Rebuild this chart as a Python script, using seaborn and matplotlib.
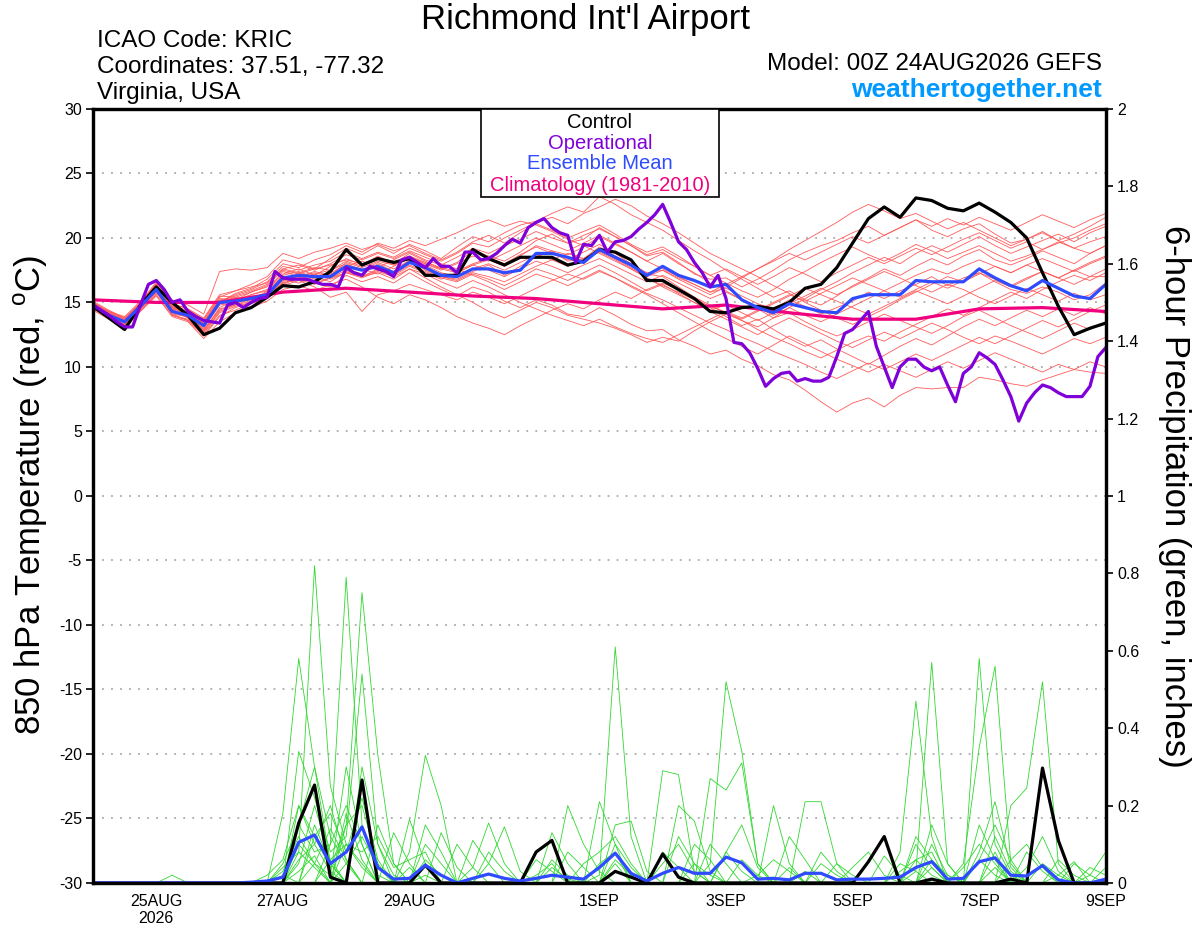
import numpy as np
import pandas as pd
import matplotlib
matplotlib.use('Agg')
import matplotlib.pyplot as plt
from matplotlib.patches import Rectangle
import seaborn as sns

# ---------------- data ----------------
# 6-hourly forecast hours 0..384 (00Z 24AUG -> 00Z 9SEP), operational 3-hourly
hours6 = list(range(0, 385, 6))
hours3 = list(range(0, 385, 3))
hours_clim = list(range(0, 385, 24))

control_t = [14.7,13.8,12.9,14.8, 16.2,15.0,14.0,12.5, 13.0,14.2,14.6,15.4,
             16.3,16.2,16.6,17.4, 19.1,17.9,18.4,18.1, 18.4,17.1,17.1,17.1,
             19.1,18.4,17.9,18.5, 18.5,18.5,17.9,18.2, 19.1,18.9,18.3,16.7,
             16.7,16.0,15.3,14.3, 14.2,14.6,14.7,14.5, 15.0,16.1,16.4,17.7,
             19.6,21.5,22.4,21.6, 23.1,22.9,22.3,22.1, 22.7,22.0,21.2,20.0,
             17.3,14.7,12.5,13.0, 13.4]

mean_t = [14.8,14.0,13.5,14.7, 16.0,14.3,14.0,13.2, 15.0,15.1,15.3,15.6,
          16.9,17.1,17.0,17.0, 17.8,17.5,17.8,17.3, 18.1,17.7,17.1,17.0,
          17.6,17.6,17.3,17.5, 18.8,18.8,18.5,18.1, 19.1,18.5,17.9,17.1,
          17.8,17.1,16.7,16.2, 16.4,15.2,14.6,14.2, 14.9,14.6,14.3,14.2,
          15.3,15.6,15.6,15.6, 16.7,16.6,16.6,16.6, 17.6,16.9,16.3,15.9,
          16.7,16.1,15.5,15.3, 16.4]

oper_t = [14.8,14.4,14.0,13.5,13.1,13.1,14.8,16.4, 16.7,16.0,15.0,15.2,14.3,13.9,13.6,13.5,
          13.4,14.8,15.0,14.6,15.0,15.3,15.4,17.4, 16.9,16.8,16.8,16.8,16.6,16.4,16.4,16.2,
          17.7,17.3,17.1,17.8,17.6,17.4,17.0,18.3, 18.5,18.1,17.7,18.4,17.8,17.8,17.3,18.9,
          18.9,18.3,18.4,18.8,19.4,19.9,19.6,20.8, 21.2,21.5,20.8,20.4,20.2,18.1,19.5,19.4,
          20.2,18.9,19.7,19.8,20.1,20.7,21.2,21.8, 22.6,21.2,19.7,19.1,18.1,17.3,16.2,17.1,
          15.3,11.9,11.8,11.1,9.9,8.5,9.1,9.5, 9.6,8.9,9.1,8.9,8.9,9.2,10.8,12.6,
          12.9,13.6,14.3,11.6,10.0,8.4,10.0,10.6, 10.6,10.0,9.7,10.0,8.6,7.3,9.5,10.0,
          11.1,10.7,10.2,9.0,7.7,5.8,7.2,8.0, 8.6,8.4,8.0,7.7,7.7,7.7,8.5,10.8,
          11.5]

clim_t = [15.2,15.0,15.0,15.8,16.1,15.8,15.5,15.3,14.9,14.5,14.8,14.2,13.7,13.7,14.5,14.6,14.3]

# ensemble members, 850 hPa temperature
m01 = [14.5,13.9,13.2,14.6, 16.3,14.8,14.2,12.8, 14.6,15.2,15.8,16.2, 17.2,17.6,17.1,17.8, 18.4,17.9,18.6,18.0, 18.8,18.2,17.6,18.1, 19.0,18.6,18.2,18.9, 19.8,20.3,19.6,19.9, 20.8,20.1,19.4,18.6, 18.9,18.1,17.2,16.8, 16.9,16.2,16.8,17.5, 18.3,18.9,19.4,19.8, 20.4,20.9,20.2,20.8, 21.4,20.6,20.1,20.7, 21.1,20.3,19.6,19.9, 20.5,19.8,20.3,20.9, 21.6]
m02 = [14.9,14.2,13.6,14.9, 15.8,14.1,13.6,12.4, 13.9,14.6,15.0,15.3, 16.4,16.9,16.5,16.2, 17.1,16.6,17.0,16.5, 17.3,16.6,16.0,15.5, 16.2,15.8,15.1,14.6, 15.2,14.8,14.1,13.9, 14.6,14.0,13.3,12.8, 12.9,12.1,11.6,11.0, 11.3,10.6,10.1,9.4, 9.0,8.2,7.3,6.5, 7.2,7.6,6.9,7.8, 8.4,8.3,8.4,8.4, 9.2,9.0,8.7,8.5, 9.0,9.4,9.8,9.6, 9.5]
m03 = [15.1,14.4,13.8,15.0, 16.6,14.9,14.5,13.6, 15.4,15.9,16.4,17.0, 18.3,18.0,17.6,18.4, 19.2,18.7,19.4,18.8, 19.5,19.0,18.4,19.3, 20.1,19.7,20.4,21.0, 21.3,21.9,22.4,22.0, 23.2,22.6,21.8,21.2, 20.6,19.8,19.0,18.3, 17.5,16.8,16.1,15.4, 15.9,15.2,14.8,15.5, 16.3,16.9,17.6,17.1, 17.8,18.4,17.9,18.6, 19.1,18.3,17.9,18.4, 19.0,18.5,18.0,18.8, 19.4]
m04 = [14.7,14.1,13.4,14.4, 15.7,14.5,13.8,13.0, 14.8,15.0,15.5,15.3, 16.6,17.3,16.8,17.2, 17.6,17.2,18.0,17.4, 18.3,17.5,17.0,16.8, 17.4,17.9,17.1,17.8, 18.5,19.0,18.2,18.4, 19.3,18.6,18.0,17.3, 17.5,16.9,16.4,15.8, 16.1,15.5,14.9,14.5, 15.2,14.7,14.1,14.6, 15.1,15.8,15.3,15.9, 16.4,17.0,16.3,16.9, 17.3,16.6,16.0,15.7, 16.2,15.8,15.2,15.6, 16.5]
m05 = [14.6,13.8,13.3,14.5, 16.1,14.0,13.7,12.6, 14.2,14.7,15.0,15.8, 17.0,16.8,16.4,16.9, 17.5,17.0,17.3,16.8, 17.6,16.9,16.2,15.6, 15.0,14.3,13.8,14.4, 15.0,14.6,14.0,13.7, 13.4,13.0,12.5,11.9, 12.3,12.0,12.8,13.5, 14.1,13.6,13.1,13.8, 14.6,15.3,16.0,16.6, 17.3,17.9,18.5,18.0, 18.8,19.4,18.9,19.5, 20.1,19.4,18.8,19.3, 19.8,20.3,19.7,20.4, 20.9]
m06 = [15.0,14.3,13.7,14.8, 16.4,14.6,14.1,13.4, 15.2,15.3,15.1,15.9, 17.4,17.0,17.4,17.1, 18.1,17.7,18.2,17.9, 18.6,18.0,17.6,17.3, 17.9,18.3,17.8,18.6, 19.4,19.0,18.7,19.3, 20.1,19.5,18.9,18.2, 18.8,18.0,17.3,16.5, 15.9,15.2,14.5,13.8, 14.2,13.5,12.9,12.4, 12.9,13.5,14.1,13.6, 13.1,12.6,13.2,13.9, 14.4,13.8,13.2,12.7, 12.2,12.8,13.4,12.9, 13.5]
m07 = [14.8,14.0,13.6,14.9, 16.5,15.2,14.8,14.1, 17.4,17.6,17.5,17.7, 18.8,18.4,18.9,19.2, 19.6,19.1,19.5,19.0, 19.4,18.8,18.3,18.9, 19.7,20.2,19.6,20.4, 21.1,20.6,20.0,20.5, 21.0,20.3,19.5,18.9, 19.3,18.6,17.8,17.1, 16.5,15.9,15.4,16.0, 16.8,17.4,18.1,18.7, 19.3,18.7,18.2,18.8, 19.5,19.0,18.4,18.9, 19.4,18.8,18.2,18.6, 19.1,19.6,20.0,20.6, 21.1]
m08 = [14.4,13.7,13.0,14.3, 15.5,13.9,13.5,12.2, 13.5,14.2,14.6,15.1, 16.0,16.3,15.9,16.4, 16.8,16.2,15.4,14.9, 15.6,15.2,14.6,13.9, 13.4,13.0,12.5,13.2, 13.8,14.4,14.9,14.5, 15.2,15.8,15.3,16.0, 16.5,16.0,15.4,14.8, 14.2,13.6,12.9,12.3, 11.8,11.2,10.7,11.3, 11.9,12.4,12.0,12.7, 13.3,13.9,14.5,14.0, 14.6,15.2,15.8,15.3, 16.0,16.6,17.1,16.7, 17.3]
m09 = [14.9,14.1,13.5,14.6, 16.2,14.4,14.0,13.1, 15.1,15.6,16.0,16.6, 17.8,17.5,17.9,18.2, 18.9,18.4,18.9,18.5, 19.2,18.7,18.2,18.8, 19.6,19.3,20.0,20.6, 21.2,21.6,21.1,21.9, 22.4,23.0,22.5,21.7, 21.1,20.4,19.6,18.8, 18.2,17.6,17.0,16.3, 15.7,15.0,14.4,13.8, 13.3,13.9,14.5,15.2, 15.8,16.4,17.0,16.6, 17.2,17.8,17.3,17.9, 18.4,17.9,17.4,18.0, 18.5]
m10 = [14.6,13.9,13.4,14.7, 15.9,14.2,13.9,12.9, 14.4,14.9,15.4,15.7, 16.8,16.5,17.0,16.6, 17.4,17.0,17.6,17.2, 17.9,17.4,16.9,16.6, 17.2,16.8,16.3,16.9, 17.6,17.2,16.7,17.3, 17.9,17.3,16.6,15.9, 16.4,15.7,15.0,14.3, 13.7,13.1,12.5,13.2, 13.8,13.2,12.6,12.0, 11.5,12.1,12.7,12.2, 12.8,13.4,12.9,12.3, 11.8,12.4,12.0,11.5, 11.0,11.6,12.2,11.8, 12.3]
m11 = [14.8,14.2,13.7,14.9, 16.0,14.6,14.3,13.5, 15.3,15.2,15.6,16.0, 17.1,17.4,16.9,17.3, 17.9,17.6,17.2,17.8, 18.4,17.9,17.3,17.0, 17.6,18.0,17.5,18.1, 18.7,18.3,17.8,18.4, 19.0,18.4,17.7,17.0, 17.5,16.8,16.2,15.6, 16.2,16.9,17.6,18.3, 19.1,19.8,20.5,21.2, 22.0,22.6,22.1,21.5, 21.9,21.3,20.7,21.2, 20.6,20.0,19.4,19.9, 20.4,19.8,19.2,19.7, 20.1]
m12 = [15.0,14.3,13.9,15.1, 16.3,14.7,14.4,13.7, 15.5,15.4,15.8,16.3, 17.5,17.2,17.6,17.9, 18.3,18.0,18.5,18.1, 18.6,18.1,17.7,17.4, 18.0,18.4,18.0,18.7, 19.3,18.8,18.3,18.9, 19.5,18.8,18.0,17.2, 17.0,16.2,15.4,14.6, 13.9,13.2,13.7,12.9, 12.2,11.6,12.1,11.4, 10.8,10.2,10.9,11.6, 12.2,11.7,12.4,13.1, 13.7,13.2,13.8,14.4, 13.9,14.5,14.0,14.6, 14.1]
m13 = [14.5,13.8,13.2,14.4, 15.6,14.0,13.6,12.5, 14.0,14.4,14.9,15.4, 16.3,16.7,16.2,15.4, 15.8,14.3,15.6,15.9, 16.4,16.0,15.6,15.2, 15.8,15.4,14.9,15.5, 16.1,16.7,17.2,16.8, 17.4,16.9,16.3,15.7, 15.2,14.6,14.0,13.4, 12.9,12.3,11.8,11.2, 10.7,10.2,9.6,9.1, 9.7,10.3,9.8,10.4, 11.0,10.5,11.1,11.7, 12.3,11.8,12.4,13.0, 13.6,13.1,13.7,14.3, 14.8]
m14 = [14.7,14.0,13.5,14.8, 16.1,14.5,14.2,13.3, 15.0,15.4,15.2,15.5, 16.7,17.0,17.3,17.0, 17.8,18.2,17.7,18.3, 18.9,18.3,17.9,18.5, 19.2,18.8,19.4,19.9, 20.5,20.0,19.6,20.2, 20.7,20.1,19.4,18.7, 19.1,18.4,17.8,17.1, 17.6,17.0,16.4,17.0, 17.7,17.2,16.6,17.3, 17.9,18.5,18.0,18.6, 19.2,18.7,19.3,19.9, 20.4,19.8,19.2,19.7, 19.1,19.7,19.2,18.8, 19.4]
m15 = [14.6,14.1,13.6,14.6, 15.8,14.4,14.0,13.4, 14.9,15.1,15.6,15.9, 17.0,16.8,17.2,17.5, 18.0,17.5,18.1,17.6, 18.2,17.6,17.0,16.7, 17.3,17.0,16.6,17.2, 17.8,18.3,18.8,18.4, 18.9,18.3,17.6,16.9, 16.2,15.6,15.0,14.4, 14.8,14.2,13.6,14.2, 14.9,15.5,16.1,15.6, 16.2,16.8,17.4,16.9, 16.3,15.8,16.4,16.0, 15.4,14.9,15.5,16.1, 15.6,15.1,15.7,15.2, 15.6]
m16 = [14.9,14.3,13.8,14.9, 16.4,14.9,14.5,13.8, 15.6,15.9,16.2,16.5, 17.6,17.9,17.5,18.0, 18.7,18.3,18.8,18.4, 19.0,18.5,18.0,17.6, 17.1,16.6,16.0,16.6, 17.2,16.8,16.3,16.9, 17.5,16.9,16.2,15.6, 14.9,14.2,13.5,12.8, 12.2,11.6,11.0,11.7, 12.4,11.8,11.2,10.6, 10.1,9.6,10.2,9.7, 9.2,9.8,10.4,9.9, 10.5,11.1,10.6,10.1, 9.6,10.2,9.8,10.4, 10.0]
m17 = [14.8,14.1,13.4,14.7, 16.2,14.7,14.2,13.4, 15.1,15.5,15.9,16.4, 17.6,17.3,17.7,17.5, 18.2,17.8,18.4,17.9, 18.5,18.0,17.5,18.0, 18.6,18.2,18.8,19.4, 20.0,19.5,19.0,19.6, 20.2,19.6,18.9,18.2, 17.6,17.0,16.4,15.8, 16.4,17.0,17.6,18.2, 18.8,18.3,18.9,19.5, 20.1,19.6,20.2,20.8, 21.4,20.9,21.5,21.0, 21.6,21.1,20.6,21.2, 21.8,21.3,20.8,21.4, 21.9]
m18 = [14.5,13.9,13.3,14.5, 15.9,14.3,13.8,12.7, 14.3,14.8,15.3,15.6, 16.5,16.9,16.5,16.9, 17.3,16.9,17.4,17.0, 17.6,17.2,16.6,16.1, 16.7,16.2,15.6,15.0, 14.5,14.0,13.6,13.2, 13.7,13.1,12.6,12.2, 11.9,12.5,13.1,13.7, 14.3,13.8,14.4,15.0, 15.6,15.1,15.7,16.3, 16.9,16.4,15.9,16.5, 17.1,17.6,17.2,17.8, 18.3,17.8,17.3,17.9, 17.4,16.9,17.5,17.0, 17.6]
m19 = [15.0,14.2,13.6,14.8, 16.3,14.6,14.0,13.2, 15.0,15.7,16.1,16.8, 18.0,17.7,18.3,18.7, 19.4,18.9,19.6,19.2, 19.8,19.4,19.9,20.4, 21.0,21.4,20.9,21.3, 21.0,20.5,19.9,19.4, 18.8,18.2,17.6,16.9, 16.3,15.8,15.2,14.7, 14.2,13.7,14.3,14.9, 15.5,16.1,15.6,15.1, 14.6,14.1,14.7,15.3, 15.9,15.4,14.9,15.5, 16.1,16.7,16.2,16.8, 17.4,16.9,17.5,18.1, 18.6]
m20 = [14.7,14.0,13.5,14.6, 15.8,14.1,13.9,12.8, 14.5,14.8,15.1,15.4, 16.5,16.9,17.2,16.8, 17.3,17.0,17.5,17.1, 17.8,17.3,16.8,17.3, 17.9,17.5,17.0,17.6, 18.2,17.8,17.3,17.9, 18.4,17.8,17.2,16.6, 17.1,16.5,15.9,15.3, 15.8,15.2,14.6,14.0, 14.6,14.0,13.5,14.1, 14.7,15.3,15.9,15.4, 16.0,16.6,16.1,16.7, 17.3,16.8,16.3,16.9, 17.4,16.9,16.4,17.0, 17.0]
temp_members = [m01, m02, m03, m04, m05, m06, m07, m08, m09, m10,
                m11, m12, m13, m14, m15, m16, m17, m18, m19, m20]

# 6-hour precipitation (inches)
control_p = [0,0,0,0, 0,0,0,0, 0,0,0,0, 0,.155,.253,.015, 0,.266,0,0, 0,.046,0,0,
             0,0,0,0, .08,.11,0,0, 0,.03,.015,0, .075,.015,0,0, 0,0,0,0, 0,0,0,0,
             0,.055,.12,0, 0,.01,0,0, 0,0,.01,0, .297,.11,0,0, 0]
mean_p = [0,0,0,0, 0,0,0,0, 0,0,.002,.005, .015,.105,.124,.05, .08,.145,.04,.01,
          .012,.046,.02,0, .012,.023,.012,.005, .012,.02,.015,.01, .04,.077,.025,.005,
          .025,.04,.025,.025, .067,.052,.01,.012, .008,.025,.025,.008, .01,.01,.012,.015,
          .04,.055,.01,.012, .055,.065,.02,.018, .045,.008,0,0, .01]

p01 = [0,0,0,0, 0,.02,0,0, 0,0,0,0, .18,.58,.30,.05, 0,0,0,0, 0,.02,0,0, 0,0,0,0, 0,.04,.01,0, 0,0,0,0, 0,0,.05,.02, 0,0,0,0, 0,.03,0,0, 0,0,0,0, .06,.02,0,0, 0,.04,0,0, 0,0,0,0, 0]
p02 = [0,0,0,0, 0,0,0,0, 0,0,0,0, 0,.08,.82,.25, .10,.05,0,0, .08,.33,.20,0, 0,0,0,0, 0,0,0,0, 0,.05,0,0, 0,0,0,0, .08,.03,0,0, 0,0,0,0, 0,0,0,0, 0,.10,.02,0, .06,.02,0,0, 0,0,0,0, 0]
p03 = [0,0,0,0, 0,0,0,0, 0,0,0,0, 0,0,0,.10, .79,.15,.02,0, 0,0,0,0, 0,0,0,0, 0,0,0,0, .02,.61,.12,0, 0,0,0,0, 0,0,0,0, 0,0,.05,.02, 0,0,0,0, 0,0,0,0, 0,0,0,.04, .12,.03,0,0, 0]
p04 = [0,0,0,0, 0,0,0,0, 0,0,0,0, 0,0,0,0, .15,.75,.33,.05, 0,0,0,0, .04,.155,.05,0, 0,0,0,0, 0,0,0,0, 0,0,0,.05, .52,.34,.05,0, 0,0,0,0, 0,0,0,0, .03,.57,.05,0, 0,0,0,0, 0,0,0,.02, .08]
p05 = [0,0,0,0, 0,0,0,0, 0,0,0,0, 0,.34,.22,.08, .12,.54,.10,0, 0,0,0,0, 0,0,0,0, 0,0,.20,.10, .03,0,0,0, 0,0,0,0, 0,0,0,0, .04,0,0,0, 0,0,0,0, 0,0,0,0, .58,.10,.02,0, 0,0,0,0, 0]
p06 = [0,0,0,0, 0,0,0,0, 0,0,0,0, .05,.15,.30,.12, .05,0,0,.13, .05,0,0,0, 0,0,0,0, 0,.13,.05,0, 0,0,0,0, .29,.28,.03,0, 0,0,0,0, 0,0,0,0, 0,0,0,0, 0,0,0,.05, .35,.56,.05,0, 0,0,0,0, 0]
p07 = [0,0,0,0, 0,0,0,0, 0,0,0,.02, .06,.20,.10,.20, .06,0,0,0, .165,.05,0,0, 0,0,0,0, 0,0,0,0, .21,.10,0,0, 0,0,0,0, 0,0,0,0, 0,.21,.21,.05, 0,0,0,0, 0,0,0,0, 0,0,.20,.245, .52,.05,0,0, 0]
p08 = [0,0,0,0, 0,0,0,0, 0,0,0,0, 0,0,.12,.18, .08,.22,.06,0, 0,0,.13,.04, 0,0,0,0, 0,0,0,0, 0,0,0,0, 0,.20,.16,.03, 0,0,0,0, 0,0,0,0, 0,0,0,.08, .47,.12,0,0, 0,0,0,0, 0,0,.05,.02, 0]
p09 = [0,0,0,0, 0,0,0,0, 0,0,0,0, 0,.10,.05,.02, .30,.10,0,0, 0,0,0,0, 0,.05,.145,.03, 0,0,0,0, 0,.15,.16,.03, 0,0,0,0, 0,0,0,.20, .05,0,0,0, 0,0,0,0, 0,0,0,0, .08,.21,.04,0, 0,0,0,0, 0]
p10 = [0,0,0,0, 0,0,0,0, 0,0,0,0, .03,.12,.05,0, 0,.30,.10,.02, 0,0,0,0, .11,.05,0,0, 0,0,0,0, 0,0,0,0, 0,0,0,.27, .24,.31,.05,0, 0,0,0,0, 0,0,.07,.02, 0,0,0,0, 0,0,0,.08, .03,0,0,0, 0]
p11 = [0,0,0,0, 0,0,0,0, 0,0,0,0, 0,.05,.20,.06, 0,0,0,0, 0,.10,.05,0, 0,0,0,0, .06,.03,0,0, 0,0,0,0, .08,.04,0,0, 0,0,0,0, 0,0,0,0, .04,.08,.02,0, 0,.15,.05,0, 0,.12,.03,0, 0,0,0,0, 0]
p12 = [0,0,0,0, 0,0,0,0, 0,0,0,0, 0,0,0,0, .10,.08,.12,.04, .06,.08,0,0, 0,0,0,0, 0,0,0,.05, .08,.12,.05,0, 0,0,0,0, 0,0,.02,.06, .03,0,0,0, 0,0,0,0, .10,.04,0,0, 0,0,0,0, 0,.02,.055,0, 0]
p13 = [0,0,0,0, 0,0,0,0, 0,0,0,0, 0,.15,.08,.10, .20,.10,0,0, 0,0,0,0, 0,0,0,0, .02,.05,0,0, 0,0,0,0, 0,0,.10,.06, 0,0,0,0, 0,0,0,0, 0,0,0,0, 0,0,0,.04, .10,.05,0,0, 0,0,0,0, 0]
p14 = [0,0,0,0, 0,0,0,0, 0,0,0,0, .02,0,.15,.05, 0,0,.15,.05, 0,0,0,.10, .04,0,0,0, 0,0,0,0, 0,.10,.04,0, 0,0,0,0, 0,0,0,0, 0,0,.08,.03, 0,0,0,.03, .06,.08,0,0, 0,0,0,0, .05,.02,0,0, 0]
p15 = [0,0,0,0, 0,0,0,0, 0,0,0,0, 0,.20,.12,.04, .15,.20,.05,0, .04,0,0,0, 0,0,0,0, 0,0,0,0, 0,0,0,0, 0,0,0,0, .08,.15,.04,0, 0,0,0,0, 0,0,0,0, 0,.06,.02,0, .06,.15,.06,0, 0,0,0,0, 0]
p16 = [0,0,0,0, 0,0,0,0, 0,0,0,0, 0,0,0,.06, .10,.04,0,0, 0,.06,.02,0, 0,0,0,0, 0,0,.08,.04, 0,0,0,0, 0,.12,.05,0, 0,0,0,0, .12,.06,0,0, 0,0,0,0, 0,0,0,0, 0,.08,0,0, 0,0,0,.04, .02]
p17 = [0,0,0,0, 0,0,0,0, 0,0,0,0, 0,.06,.10,.03, 0,0,0,0, 0,0,0,0, 0,0,0,0, 0,0,0,0, .05,.08,0,0, 0,0,0,.10, .05,0,0,0, 0,0,0,0, 0,0,0,0, .12,.06,0,0, .15,.06,0,0, 0,0,0,0, 0]
p18 = [0,0,0,0, 0,0,0,0, 0,0,0,0, .04,.08,.04,0, .05,.12,.04,0, 0,0,0,0, 0,.08,.03,0, 0,.06,.02,0, 0,0,0,0, 0,0,0,0, 0,0,0,0, 0,0,0,.05, .02,0,0,0, 0,0,0,0, 0,0,.06,.10, .04,0,0,0, 0]
p19 = [0,0,0,0, 0,0,0,0, 0,0,0,0, 0,0,.05,.14, .06,0,0,0, 0,.15,.08,0, 0,0,0,0, 0,0,0,0, 0,0,0,0, .05,.10,.03,0, 0,0,0,0, 0,0,0,0, 0,0,0,.05, .03,0,0,0, 0,0,0,0, 0,.06,.02,0, 0]
p20 = [0,0,0,0, 0,0,0,0, 0,0,0,0, 0,.03,.07,0, .18,.06,0,0, 0,0,0,0, 0,0,0,0, 0,0,0,0, 0,.06,.02,0, 0,0,0,0, 0,.06,.02,0, 0,0,0,0, 0,0,0,0, 0,.04,0,0, 0,0,0,0, 0,0,0,0, .04]
precip_members = [p01, p02, p03, p04, p05, p06, p07, p08, p09, p10,
                  p11, p12, p13, p14, p15, p16, p17, p18, p19, p20]

tick_hours = [24, 72, 120, 192, 240, 288, 336, 384]
tick_labels = ['25AUG\n2026', '27AUG', '29AUG', '1SEP', '3SEP', '5SEP', '7SEP', '9SEP']
temp_ticks = list(range(-30, 31, 5))
precip_ticks = [0, 0.2, 0.4, 0.6, 0.8, 1, 1.2, 1.4, 1.6, 1.8, 2]
precip_labels = ['0', '0.2', '0.4', '0.6', '0.8', '1', '1.2', '1.4', '1.6', '1.8', '2']

# ---------------- long tables for seaborn ----------------
rows_t = []
for k, mem in enumerate(temp_members):
    for h, v in zip(hours6, mem):
        rows_t.append((k, h, v))
df_t = pd.DataFrame(rows_t, columns=['member', 'hour', 'temp'])

rows_p = []
for k, mem in enumerate(precip_members):
    for h, v in zip(hours6, mem):
        rows_p.append((k, h, v))
df_p = pd.DataFrame(rows_p, columns=['member', 'hour', 'precip'])

# ---------------- style ----------------
sns.set_style('white')
plt.rcParams['font.family'] = ['Liberation Sans', 'DejaVu Sans']
plt.rcParams['text.color'] = 'black'

RED = '#ff5a5a'
GREEN = '#30d830'
PURPLE = '#7f00d8'
BLUE = '#2f4bff'
PINK = '#f0007f'

fig = plt.figure(figsize=(12, 9.27), dpi=100)
ax = fig.add_axes([0.0775, 0.0475, 0.844, 0.835])
ax2 = ax.twinx()

# temperature (left axis)
sns.lineplot(data=df_t, x='hour', y='temp', units='member', estimator=None,
             color=RED, lw=0.6, ax=ax, legend=False)
sns.lineplot(x=hours_clim, y=clim_t, color=PINK, lw=2.3, ax=ax)
sns.lineplot(x=hours6, y=control_t, color='black', lw=2.3, ax=ax)
sns.lineplot(x=hours6, y=mean_t, color=BLUE, lw=2.3, ax=ax)
sns.lineplot(x=hours3, y=oper_t, color=PURPLE, lw=2.3, ax=ax)

# precipitation (right axis)
sns.lineplot(data=df_p, x='hour', y='precip', units='member', estimator=None,
             color=GREEN, lw=0.6, ax=ax2, legend=False)
sns.lineplot(x=hours6, y=control_p, color='black', lw=2.3, ax=ax2)
sns.lineplot(x=hours6, y=mean_p, color=BLUE, lw=2.3, ax=ax2)

ax.set_xlim(0, 384)
ax.set_ylim(-30, 30)
ax2.set_ylim(0, 2)
ax.set_xticks(tick_hours)
ax.set_xticklabels(tick_labels, fontsize=11.5, linespacing=1.15)
ax.set_yticks(temp_ticks)
ax.set_yticklabels([str(t) for t in temp_ticks], fontsize=11.5)
ax2.set_yticks(precip_ticks)
ax2.set_yticklabels(precip_labels, fontsize=11.5)
ax.set_xlabel('')
ax.set_ylabel('')
ax2.set_ylabel('')

ax.yaxis.grid(True, linestyle=(0, (1, 4)), color='#aaaaaa', lw=1.3)
ax.xaxis.grid(False)
ax2.grid(False)
for a in (ax, ax2):
    for s in a.spines.values():
        s.set_linewidth(2.3)
        s.set_color('black')
ax.tick_params(axis='both', direction='out', length=5, width=1.2, pad=3, colors='black')
ax2.tick_params(axis='y', direction='out', length=5, width=1.2, pad=3, colors='black')

# ---------------- header texts ----------------
fig.text(0.488, 0.9785, "Richmond Int'l Airport", ha='center', va='center', fontsize=25, color='black')
fig.text(0.081, 0.9555, 'ICAO Code: KRIC', ha='left', va='center', fontsize=17.5, color='black')
fig.text(0.081, 0.9275, 'Coordinates: 37.51, -77.32', ha='left', va='center', fontsize=17.5, color='black')
fig.text(0.081, 0.8995, 'Virginia, USA', ha='left', va='center', fontsize=17.5, color='black')
fig.text(0.918, 0.931, 'Model: 00Z 24AUG2026 GEFS', ha='right', va='center', fontsize=17.5, color='black')
fig.text(0.918, 0.903, 'weathertogether.net', ha='right', va='center', fontsize=19,
         fontweight='bold', color='#0099ff')

fig.text(0.026, 0.466, '850 hPa Temperature (red, $^{\\mathregular{o}}$C)', rotation=90,
         ha='center', va='center', fontsize=25, color='black')
fig.text(0.979, 0.465, '6-hour Precipitation (green, inches)', rotation=270,
         ha='center', va='center', fontsize=25, color='black')

# legend box
box = Rectangle((0.4008, 0.7875), 0.1984, 0.0949, transform=fig.transFigure,
                facecolor='white', edgecolor='black', lw=1.2, zorder=5)
fig.add_artist(box)
legend_items = [('Control', 'black', 0.8675), ('Operational', PURPLE, 0.8455),
                ('Ensemble Mean', BLUE, 0.8232), ('Climatology (1981-2010)', PINK, 0.7998)]
for txt, col, yy in legend_items:
    fig.text(0.5, yy, txt, ha='center', va='center', fontsize=14.5, color=col, zorder=6)

fig.savefig('out.png', dpi=100)
